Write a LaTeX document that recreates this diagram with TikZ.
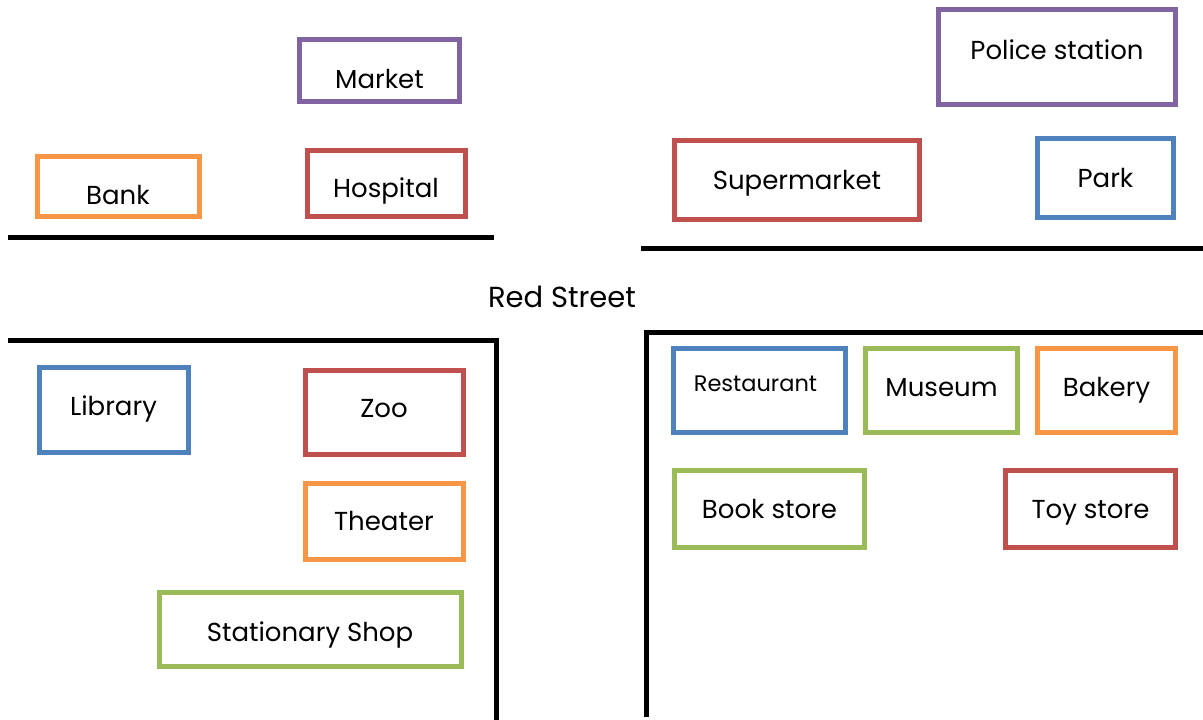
\documentclass[tikz,border=0pt]{standalone}
\usepackage{fontspec}
\setmainfont{Poppins}
\usepackage{xcolor}
\definecolor{lotorange}{HTML}{F79646}
\definecolor{lotred}{HTML}{C0504D}
\definecolor{lotblue}{HTML}{4F81BD}
\definecolor{lotgreen}{HTML}{9BBB59}
\definecolor{lotpurple}{HTML}{8064A2}

\tikzset{
  lot/.style={draw=#1, line width=5pt, inner sep=0pt},
  street/.style={line width=5pt, black},
  every label/.style={text height=19pt, text depth=6pt, inner sep=0pt}
}

\begin{document}
\begin{tikzpicture}[x=1pt, y=-1pt, font=\fontsize{26}{30}\selectfont]
    \useasboundingbox (0,0) rectangle (1203,720);

    % Street edges
    \draw[street] (8,237) -- (494,237);
    \draw[street] (641,248) -- (1203,248);
    \draw[street] (8,340) -- (496,340) -- (496,720);
    \draw[street] (1203,332) -- (646,332) -- (646,717);

    % Street name
    \node[font=\fontsize{29}{33}\selectfont, text height=21pt, text depth=7pt, inner sep=0pt] (street) at (562,300.5) {Red Street};

    % North-west block
    \node[lot=lotpurple, minimum width=160pt, minimum height=62pt,
          label={[yshift=-12pt]center:Market}] (market) at (379.5,70) {};
    \node[lot=lotorange, minimum width=162pt, minimum height=60pt,
          label={[yshift=-11.5pt]center:Bank}] (bank) at (118,186.5) {};
    \node[lot=lotred, minimum width=158pt, minimum height=66pt,
          label={[yshift=-7.5pt]center:Hospital}] (hospital) at (386,183.5) {};

    % North-east block
    \node[lot=lotpurple, minimum width=237pt, minimum height=95pt,
          label={[yshift=4pt]center:Police station}] (police) at (1057,57) {};
    \node[lot=lotred, minimum width=245pt, minimum height=79pt,
          label={[yshift=-3pt]center:Supermarket}] (supermarket) at (797,179.5) {};
    \node[lot=lotblue, minimum width=136pt, minimum height=79pt,
          label={[yshift=-3.5pt]center:Park}] (park) at (1105.5,177.5) {};

    % South-west block
    \node[lot=lotblue, minimum width=149pt, minimum height=85pt,
          label={[yshift=1pt]center:Library}] (library) at (113.5,410) {};
    \node[lot=lotred, minimum width=158pt, minimum height=84pt,
          label={[yshift=1.5pt]center:Zoo}] (zoo) at (384,412.5) {};
    \node[lot=lotorange, minimum width=158pt, minimum height=76pt,
          label={[yshift=-2.5pt]center:Theater}] (theater) at (384,521.5) {};
    \node[lot=lotgreen, minimum width=302pt, minimum height=74pt,
          label={[yshift=-5.5pt]center:Stationary Shop}] (stationary) at (310,629.5) {};

    % South-east block
    \node[lot=lotblue, minimum width=172pt, minimum height=84pt,
          label={[yshift=4pt, xshift=-4pt, font=\fontsize{22.5}{26}\selectfont, text height=16pt, text depth=5pt]center:Restaurant}] (restaurant) at (759.5,390) {};
    \node[lot=lotgreen, minimum width=152pt, minimum height=84pt,
          label={[yshift=0pt]center:Museum}] (museum) at (941.5,390) {};
    \node[lot=lotorange, minimum width=138pt, minimum height=84pt,
          label={[yshift=0pt]center:Bakery}] (bakery) at (1106.5,390) {};
    \node[lot=lotgreen, minimum width=190pt, minimum height=77pt,
          label={[yshift=-3.5pt]center:Book store}] (bookstore) at (769.5,508.5) {};
    \node[lot=lotred, minimum width=170pt, minimum height=77pt,
          label={[yshift=-3.5pt]center:Toy store}] (toystore) at (1090.5,508.5) {};
\end{tikzpicture}
\end{document}
